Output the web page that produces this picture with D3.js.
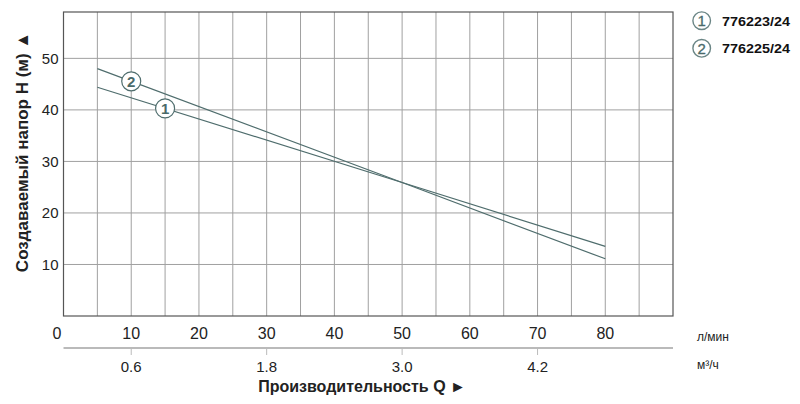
<!DOCTYPE html>
<html><head><meta charset="utf-8">
<script src="https://cdn.jsdelivr.net/npm/d3@7/dist/d3.min.js"></script>
<style>
body{margin:0;background:#fff;}
text{font-family:"Liberation Sans",Arial,sans-serif;}
</style></head>
<body><svg id="c" width="800" height="404"></svg>
<script>
// Data
const flowLmin = [5, 50, 80];                 // Q, л/мин
const head1 = [44.4, 25.9, 13.5];             // 776223/24
const head2 = [48.0, 25.9, 11.1];             // 776225/24
const seriesNames = ["776223/24", "776225/24"];
const seriesIds = ["1", "2"];
const labelAtQ = [15, 10];                    // where numbered markers sit
const xTicks = [10, 20, 30, 40, 50, 60, 70, 80];
const yTicks = [10, 20, 30, 40, 50];
const m3hTicks = [0.6, 1.8, 3.0, 4.2];

const svg = d3.select("#c");
const L = 63.5, R = 673, T = 12, B = 316;
const x = d3.scaleLinear().domain([0, 90]).range([L, R]);
const y = d3.scaleLinear().domain([0, 59]).range([B, T]);
const xm = d3.scaleLinear().domain([0, 90 * 0.06]).range([L, R]);

const lineCol = "#4f6d6d", gridCol = "#a0a0a0", axisCol = "#555";

// vertical grid every 5
svg.append("g").selectAll("line").data(d3.range(5, 90, 5)).join("line")
  .attr("x1", d => x(d)).attr("x2", d => x(d)).attr("y1", T).attr("y2", B)
  .attr("stroke", gridCol).attr("stroke-width", 1);
// horizontal grid
svg.append("g").selectAll("line").data(yTicks).join("line")
  .attr("x1", L).attr("x2", R).attr("y1", d => y(d)).attr("y2", d => y(d))
  .attr("stroke", gridCol).attr("stroke-width", 1);
// frame
svg.append("rect").attr("x", L).attr("y", T).attr("width", R - L).attr("height", B - T)
  .attr("fill", "none").attr("stroke", axisCol).attr("stroke-width", 1.2);

// y tick labels
svg.append("g").selectAll("text").data(yTicks).join("text")
  .attr("x", 58.5).attr("y", d => y(d) + 5.5).attr("text-anchor", "end")
  .attr("font-size", 15).attr("fill", "#222").text(d => d);
// x tick labels
svg.append("g").selectAll("text").data(xTicks).join("text")
  .attr("x", d => x(d)).attr("y", 339).attr("text-anchor", "middle")
  .attr("font-size", 16).attr("fill", "#222").text(d => d);
svg.append("text").attr("x", x(0) - 6.5).attr("y", 339).attr("text-anchor", "middle")
  .attr("font-size", 16).attr("fill", "#222").text("0");
svg.append("text").attr("x", 697).attr("y", 341).attr("font-size", 12).attr("fill", "#222").text("л/мин");

// secondary axis m3/h
svg.append("line").attr("x1", L).attr("x2", R).attr("y1", 348).attr("y2", 348)
  .attr("stroke", "#777").attr("stroke-width", 1.2);
svg.append("g").selectAll("line").data(m3hTicks).join("line")
  .attr("x1", d => xm(d)).attr("x2", d => xm(d)).attr("y1", 349).attr("y2", 355)
  .attr("stroke", "#bbb").attr("stroke-width", 1);
svg.append("g").selectAll("text").data(m3hTicks).join("text")
  .attr("x", d => xm(d)).attr("y", 372).attr("text-anchor", "middle")
  .attr("font-size", 15).attr("fill", "#222").text(d => d.toFixed(1));
svg.append("text").attr("x", 697).attr("y", 369).attr("font-size", 12).attr("fill", "#222").text("м³/ч");

// titles
svg.append("text").attr("x", 362).attr("y", 392).attr("text-anchor", "middle")
  .attr("font-size", 16).attr("font-weight", "bold").attr("fill", "#222")
  .text("Производительность Q ►");
svg.append("text").attr("transform", "translate(27.5,152) rotate(-90)").attr("text-anchor", "middle")
  .attr("font-size", 17).attr("font-weight", "bold").attr("fill", "#222")
  .text("Создаваемый напор H (м) ▲");

// curves
const heads = [head1, head2];
const line = d3.line().x(d => x(d[0])).y(d => y(d[1]));
heads.forEach(h => {
  svg.append("path").attr("d", line(flowLmin.map((q, i) => [q, h[i]])))
    .attr("fill", "none").attr("stroke", lineCol).attr("stroke-width", 1.2);
});
// markers on curves
heads.forEach((h, i) => {
  const q = labelAtQ[i];
  const hv = d3.scaleLinear().domain(flowLmin).range(h)(q);
  const g = svg.append("g").attr("transform", `translate(${x(q)},${y(hv)})`);
  g.append("circle").attr("r", 9.5).attr("fill", "#fff").attr("stroke", lineCol).attr("stroke-width", 1.2);
  g.append("text").attr("y", 5.5).attr("text-anchor", "middle").attr("font-size", 15)
    .attr("font-weight", "bold").attr("fill", "#4a6a6a").text(seriesIds[i]);
});

// legend
seriesNames.forEach((n, i) => {
  const cy = 20.7 + i * 27.6;
  svg.append("circle").attr("cx", 701.7).attr("cy", cy).attr("r", 8.8)
    .attr("fill", "#fff").attr("stroke", "#6a8585").attr("stroke-width", 1.4);
  svg.append("text").attr("x", 701.7).attr("y", cy + 5.3).attr("text-anchor", "middle")
    .attr("font-size", 15).attr("fill", "#4a6a6a").attr("stroke", "#4a6a6a").attr("stroke-width", 0.3)
    .text(seriesIds[i]);
  svg.append("text").attr("x", 722).attr("y", cy + 4.8).attr("font-size", 13.5)
    .attr("font-weight", "bold").attr("fill", "#111")
    .attr("textLength", 68).attr("lengthAdjust", "spacingAndGlyphs").text(n);
});
</script></body></html>
